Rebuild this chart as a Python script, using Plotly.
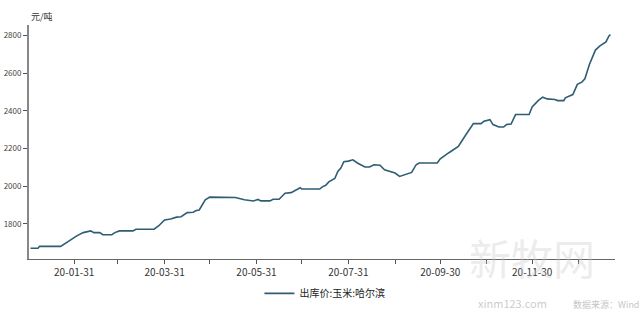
import plotly.graph_objects as go

# Data (出库价:玉米:哈尔滨, 元/吨)
dates = [
    "2020-01-02", "2020-01-07", "2020-01-08", "2020-01-22", "2020-02-02", "2020-02-06",
    "2020-02-11", "2020-02-13", "2020-02-17", "2020-02-19", "2020-02-25", "2020-02-27",
    "2020-03-01", "2020-03-10", "2020-03-12", "2020-03-24", "2020-03-27", "2020-03-31",
    "2020-04-04", "2020-04-08", "2020-04-11", "2020-04-15", "2020-04-19", "2020-04-21",
    "2020-04-23", "2020-04-27", "2020-04-30", "2020-05-17", "2020-05-23", "2020-05-29",
    "2020-06-01", "2020-06-03", "2020-06-09", "2020-06-11", "2020-06-15", "2020-06-19",
    "2020-06-23", "2020-06-29", "2020-06-30", "2020-07-12", "2020-07-14", "2020-07-16",
    "2020-07-18", "2020-07-22", "2020-07-24", "2020-07-26", "2020-07-28", "2020-07-31",
    "2020-08-03", "2020-08-06", "2020-08-11", "2020-08-14", "2020-08-17", "2020-08-21",
    "2020-08-24", "2020-08-27", "2020-08-31", "2020-09-03", "2020-09-07", "2020-09-11",
    "2020-09-14", "2020-09-16", "2020-09-28", "2020-09-30", "2020-10-06", "2020-10-09",
    "2020-10-12", "2020-10-17", "2020-10-22", "2020-10-27", "2020-10-29", "2020-11-02",
    "2020-11-04", "2020-11-08", "2020-11-11", "2020-11-13", "2020-11-16", "2020-11-19",
    "2020-11-28", "2020-11-30", "2020-12-04", "2020-12-07", "2020-12-10", "2020-12-15",
    "2020-12-17", "2020-12-21", "2020-12-22", "2020-12-27", "2020-12-30", "2021-01-02",
    "2021-01-04", "2021-01-07", "2021-01-11", "2021-01-14", "2021-01-18", "2021-01-20",
    "2021-01-21",
]
prices = [
    1671, 1671, 1681, 1681, 1738, 1754,
    1763, 1754, 1754, 1743, 1743, 1754,
    1763, 1763, 1772, 1772, 1789, 1821,
    1826, 1836, 1838, 1860, 1862, 1871,
    1874, 1928, 1942, 1940, 1928, 1922,
    1930, 1922, 1922, 1931, 1931, 1963,
    1966, 1992, 1985, 1985, 1998, 2005,
    2023, 2041, 2078, 2096, 2130, 2133,
    2140, 2123, 2102, 2102, 2114, 2111,
    2087, 2080, 2070, 2052, 2061, 2073,
    2114, 2123, 2123, 2145, 2179, 2197,
    2211, 2273, 2332, 2332, 2344, 2353,
    2327, 2314, 2314, 2327, 2330, 2380,
    2380, 2420, 2454, 2472, 2463, 2460,
    2454, 2454, 2469, 2486, 2540, 2552,
    2570, 2646, 2722, 2744, 2765, 2797,
    2804,
]

series_name = "出库价:玉米:哈尔滨"
unit_label = "元/吨"

x_tick_vals = [
    "2020-01-31", "2020-02-29", "2020-03-31", "2020-04-30", "2020-05-31", "2020-06-30",
    "2020-07-31", "2020-08-31", "2020-09-30", "2020-10-31", "2020-11-30", "2020-12-31",
]
x_tick_text = ["20-01-31", "", "20-03-31", "", "20-05-31", "", "20-07-31", "", "20-09-30", "", "20-11-30", ""]
y_tick_vals = [1800, 2000, 2200, 2400, 2600, 2800]

FONT = "Noto Sans CJK SC, Noto Sans, sans-serif"

fig = go.Figure()
fig.add_trace(go.Scatter(
    x=dates, y=prices, mode="lines", name=series_name,
    line=dict(color="#2e5d74", width=1.6),
))

fig.update_layout(
    width=640, height=315,
    margin=dict(l=29, r=25, t=25, b=56, autoexpand=False),
    paper_bgcolor="white", plot_bgcolor="white",
    font=dict(family=FONT, color="#333333"),
    showlegend=True,
    legend=dict(orientation="h", x=0.505, xanchor="center", y=-0.085, yanchor="top",
                font=dict(size=10, color="#222222"), itemwidth=30),
    xaxis=dict(
        type="date", range=["2020-01-01", "2021-01-24"],
        tickvals=x_tick_vals, ticktext=x_tick_text,
        ticks="outside", ticklen=4, tickcolor="#555555",
        showline=True, linecolor="#666666", linewidth=1,
        showgrid=False, zeroline=False, automargin=False,
        tickfont=dict(size=10, color="#333333"),
    ),
    yaxis=dict(
        range=[1614, 2855],
        tickvals=y_tick_vals,
        ticks="outside", ticklen=4, tickcolor="#555555",
        showline=True, linecolor="#888888", linewidth=2,
        showgrid=False, zeroline=False, automargin=False,
        tickfont=dict(size=8, color="#444444"),
    ),
    annotations=[
        dict(text=unit_label, xref="paper", yref="paper", x=0, y=1.0,
             xanchor="left", yanchor="bottom", showarrow=False,
             font=dict(size=9, color="#333333")),
        dict(text="新牧网", xref="paper", yref="paper", x=0.858, y=0.01,
             xanchor="center", yanchor="middle", showarrow=False,
             font=dict(size=42, color="rgba(200,200,200,0.35)")),
        dict(text="xinm123.com", xref="paper", yref="paper", x=0.825, y=-0.232,
             xanchor="center", yanchor="bottom", showarrow=False,
             font=dict(size=11, color="rgba(180,180,180,0.7)")),
        dict(text="数据来源：Wind", xref="paper", yref="paper", x=0.985, y=-0.232,
             xanchor="center", yanchor="bottom", showarrow=False,
             font=dict(size=9, color="rgba(170,170,170,0.7)")),
    ],
)

fig.write_html("out.html")
